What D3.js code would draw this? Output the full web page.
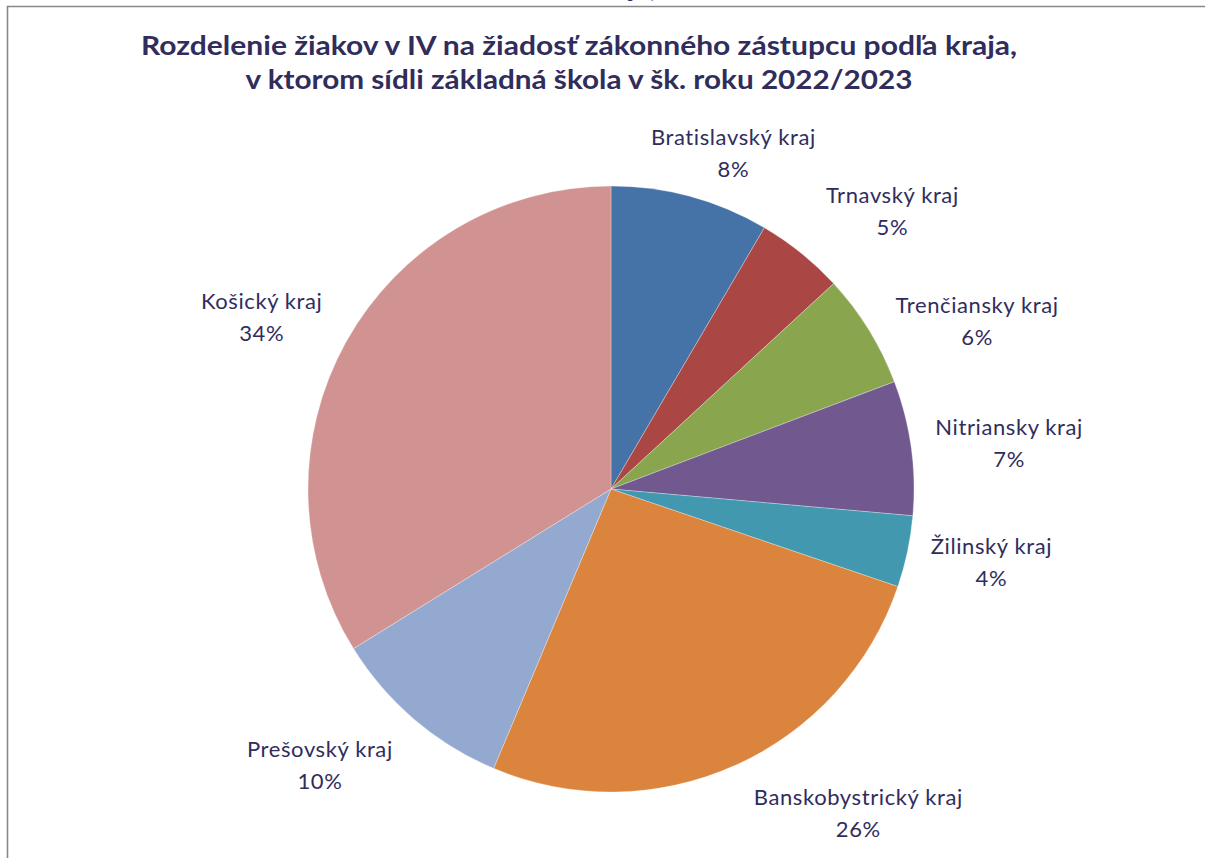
<!DOCTYPE html>
<html>
<head>
<meta charset="utf-8">
<script src="https://cdn.jsdelivr.net/npm/d3@7"></script>
<style>
  html, body { margin: 0; padding: 0; background: #fff; }
  svg { display: block; }
</style>
</head>
<body>
<svg id="chart" width="1205" height="858"></svg>
<script>
// ---- data ----
const categories = ["Bratislavský kraj", "Trnavský kraj", "Trenčiansky kraj", "Nitriansky kraj",
                    "Žilinský kraj", "Banskobystrický kraj", "Prešovský kraj", "Košický kraj"];
const shares = [8.45, 4.69, 6.10, 7.17, 3.81, 26.11, 9.84, 33.83];
const titleLines = ["Rozdelenie žiakov v IV na žiadosť zákonného zástupcu podľa kraja,",
                    "v ktorom sídli základná škola v šk. roku 2022/2023"];
const colors = ["#4572A7", "#AA4643", "#89A54E", "#71588F", "#4198AF", "#DB843D", "#93A9CF", "#D19392"];

// ---- layout ----
const W = 1205, H = 858;
const cx = 611, cy = 489, R = 303;
const textColor = "#302d5d";
const labelNudge = [[16, 4], [37, -4], [22, 18], [5, 3], [5, 1], [72, 5], [-34, 10], [-14, 0]];

const svg = d3.select("#chart");
svg.append("rect").attr("width", W).attr("height", H).attr("fill", "#fff");

// clipped remnant of the chart above
const clip = svg.append("defs").append("clipPath").attr("id", "topclip");
clip.append("rect").attr("x", 0).attr("y", 0).attr("width", W).attr("height", 6);
svg.append("text")
  .attr("clip-path", "url(#topclip)")
  .attr("x", 656).attr("y", -3)
  .attr("text-anchor", "end")
  .attr("font-family", "Lato, 'Open Sans', sans-serif")
  .attr("font-weight", "bold").attr("font-size", 27)
  .attr("fill", textColor)
  .text("kraja,");

// frame
svg.append("path")
  .attr("d", d3.line()([[7.5, H], [7.5, 6.5], [W, 6.5]]))
  .attr("fill", "none").attr("stroke", "#878787").attr("stroke-width", 1.6);

// title
const titleBase = [55, 89];
const titleWidth = [876, 667];
titleLines.forEach((t, i) => {
  svg.append("text")
    .attr("x", 579).attr("y", titleBase[i])
    .attr("text-anchor", "middle")
    .attr("font-family", "Lato, 'Open Sans', sans-serif")
    .attr("font-weight", "bold").attr("font-size", 27)
    .attr("fill", textColor)
    .attr("textLength", titleWidth[i])
    .attr("lengthAdjust", "spacingAndGlyphs")
    .text(t);
});

// pie
const pie = d3.pie().sort(null).value(d => d)(shares);
const arc = d3.arc().innerRadius(0).outerRadius(R);
const g = svg.append("g").attr("transform", `translate(${cx},${cy})`);
g.selectAll("path.slice").data(pie).join("path")
  .attr("class", "slice")
  .attr("d", arc)
  .attr("fill", (d, i) => colors[i])
  .attr("stroke", "#fff").attr("stroke-width", 0.3);

// labels
const pad = 20, lineGap = 32, blockH = 56;
pie.forEach((d, i) => {
  const t = g.append("text")
    .attr("text-anchor", "middle")
    .attr("font-family", "Lato, 'Open Sans', sans-serif")
    .attr("font-size", 22)
    .attr("letter-spacing", 0.6)
    .attr("fill", textColor);
  const l1 = t.append("tspan").attr("x", 0).attr("dy", 0).text(categories[i]);
  const l2 = t.append("tspan").attr("x", 0).attr("dy", lineGap).text(Math.round(d.value) + "%");
  const w = Math.max(l1.node().getComputedTextLength(), l2.node().getComputedTextLength());
  const a = (d.startAngle + d.endAngle) / 2;
  const sx = Math.sin(a), sy = -Math.cos(a);
  const bx = (R + pad) * sx + (w / 2) * sx + labelNudge[i][0];
  const by = (R + pad) * sy + (blockH / 2) * sy + labelNudge[i][1];
  const y1 = by - lineGap / 2 + 7;
  t.attr("transform", `translate(${bx},${y1})`);
});
</script>
</body>
</html>
